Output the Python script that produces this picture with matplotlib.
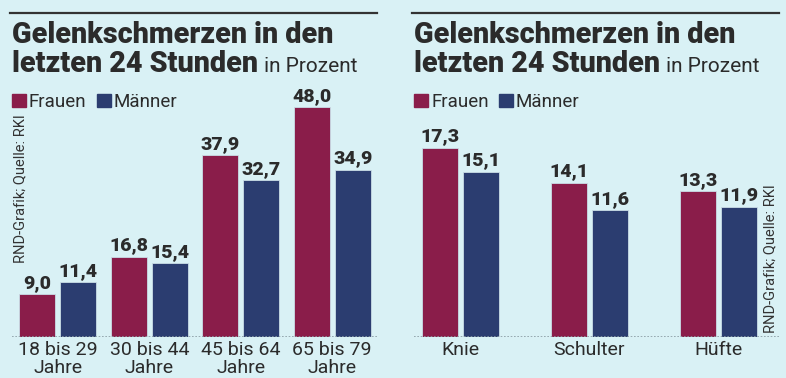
import matplotlib
matplotlib.use('Agg')
import matplotlib.pyplot as plt
import numpy as np

# data
age_groups = ['18 bis 29\nJahre', '30 bis 44\nJahre', '45 bis 64\nJahre', '65 bis 79\nJahre']
age_women = [9.0, 16.8, 37.9, 48.0]
age_men = [11.4, 15.4, 32.7, 34.9]

joints = ['Knie', 'Schulter', 'Hüfte']
joint_women = [17.3, 14.1, 13.3]
joint_men = [15.1, 11.6, 11.9]

series_names = ['Frauen', 'Männer']
title_bold = 'Gelenkschmerzen in den\nletzten 24 Stunden'
title_unit = 'in Prozent'
source = 'RND-Grafik; Quelle: RKI'

bg = '#d9f1f5'
c_women = '#8a1d4a'
c_men = '#2b3d70'
c_text = '#2b2b2b'

plt.rcParams['font.family'] = ['Roboto', 'DejaVu Sans']

W, H = 786, 378
fig = plt.figure(figsize=(W / 100, H / 100), dpi=100, facecolor=bg)


def fx(x):
    return x / W


def fy(y):
    return 1 - y / H


def fmt(v):
    return f'{v:.1f}'.replace('.', ',')


def panel(x0, cats, women, men, ymax, xlim, bw, off, src_x, src_y):
    # header rule + title
    fig.add_artist(plt.Line2D([fx(x0 - 2), fx(x0 + 365)], [fy(13), fy(13)],
                              color='#333333', lw=1.6))
    fig.text(fx(x0), fy(43), title_bold.split('\n')[0], fontsize=20.7,
             fontweight='heavy', color=c_text, va='baseline')
    t2 = fig.text(fx(x0), fy(72), title_bold.split('\n')[1], fontsize=20.7,
                  fontweight='heavy', color=c_text, va='baseline')
    fig.canvas.draw()
    bb = t2.get_window_extent()
    fig.text(bb.x1 / W + fx(6), fy(72), title_unit, fontsize=15,
             color=c_text, va='baseline')

    # legend
    lx = x0
    for name, col in zip(series_names, [c_women, c_men]):
        fig.add_artist(plt.Rectangle((fx(lx), fy(107)), fx(14), 13 / H,
                                     color=col))
        t = fig.text(fx(lx + 17), fy(107), name, fontsize=13.5, color=c_text,
                     va='baseline')
        fig.canvas.draw()
        lx = t.get_window_extent().x1 + 10

    ax = fig.add_axes([fx(x0), fy(337), 366 / W, 247 / H])
    ax.set_facecolor('none')
    x = np.arange(len(cats))
    for vals, col, sgn in [(women, c_women, -1), (men, c_men, 1)]:
        bars = ax.bar(x + sgn * off, vals, bw, color=col,
                      edgecolor='#c9dde6', lw=0.6)
        for b, v in zip(bars, vals):
            ax.annotate(fmt(v), (b.get_x() + b.get_width() / 2, v),
                        xytext=(0, 4.5), textcoords='offset points',
                        ha='center', va='baseline', fontsize=14,
                        fontweight='heavy', color=c_text)
    ax.axhline(0, color='#8c9ea5', lw=1.2, ls=(0, (1, 1)))
    ax.set_ylim(0, ymax)
    ax.set_xlim(*xlim)
    ax.set_xticks(x)
    ax.set_xticklabels(cats, fontsize=14, color=c_text, linespacing=1.0)
    ax.tick_params(length=0, pad=3)
    ax.set_yticks([])
    for s in ax.spines.values():
        s.set_visible(False)

    fig.text(fx(src_x), fy(src_y), source, rotation=90, fontsize=10.5,
             color='#333333', ha='center', va='bottom')


panel(12, age_groups, age_women, age_men, 247 / 4.79, (-0.5, 3.5),
      36 / 91.5, 20.5 / 91.5, 20, 263)
panel(414, joints, joint_women, joint_men, 247 / 10.95, (-0.356, 2.476),
      36 / 129.25, 20.5 / 129.25, 770, 333)

fig.savefig('out.png', dpi=100, facecolor=bg)
